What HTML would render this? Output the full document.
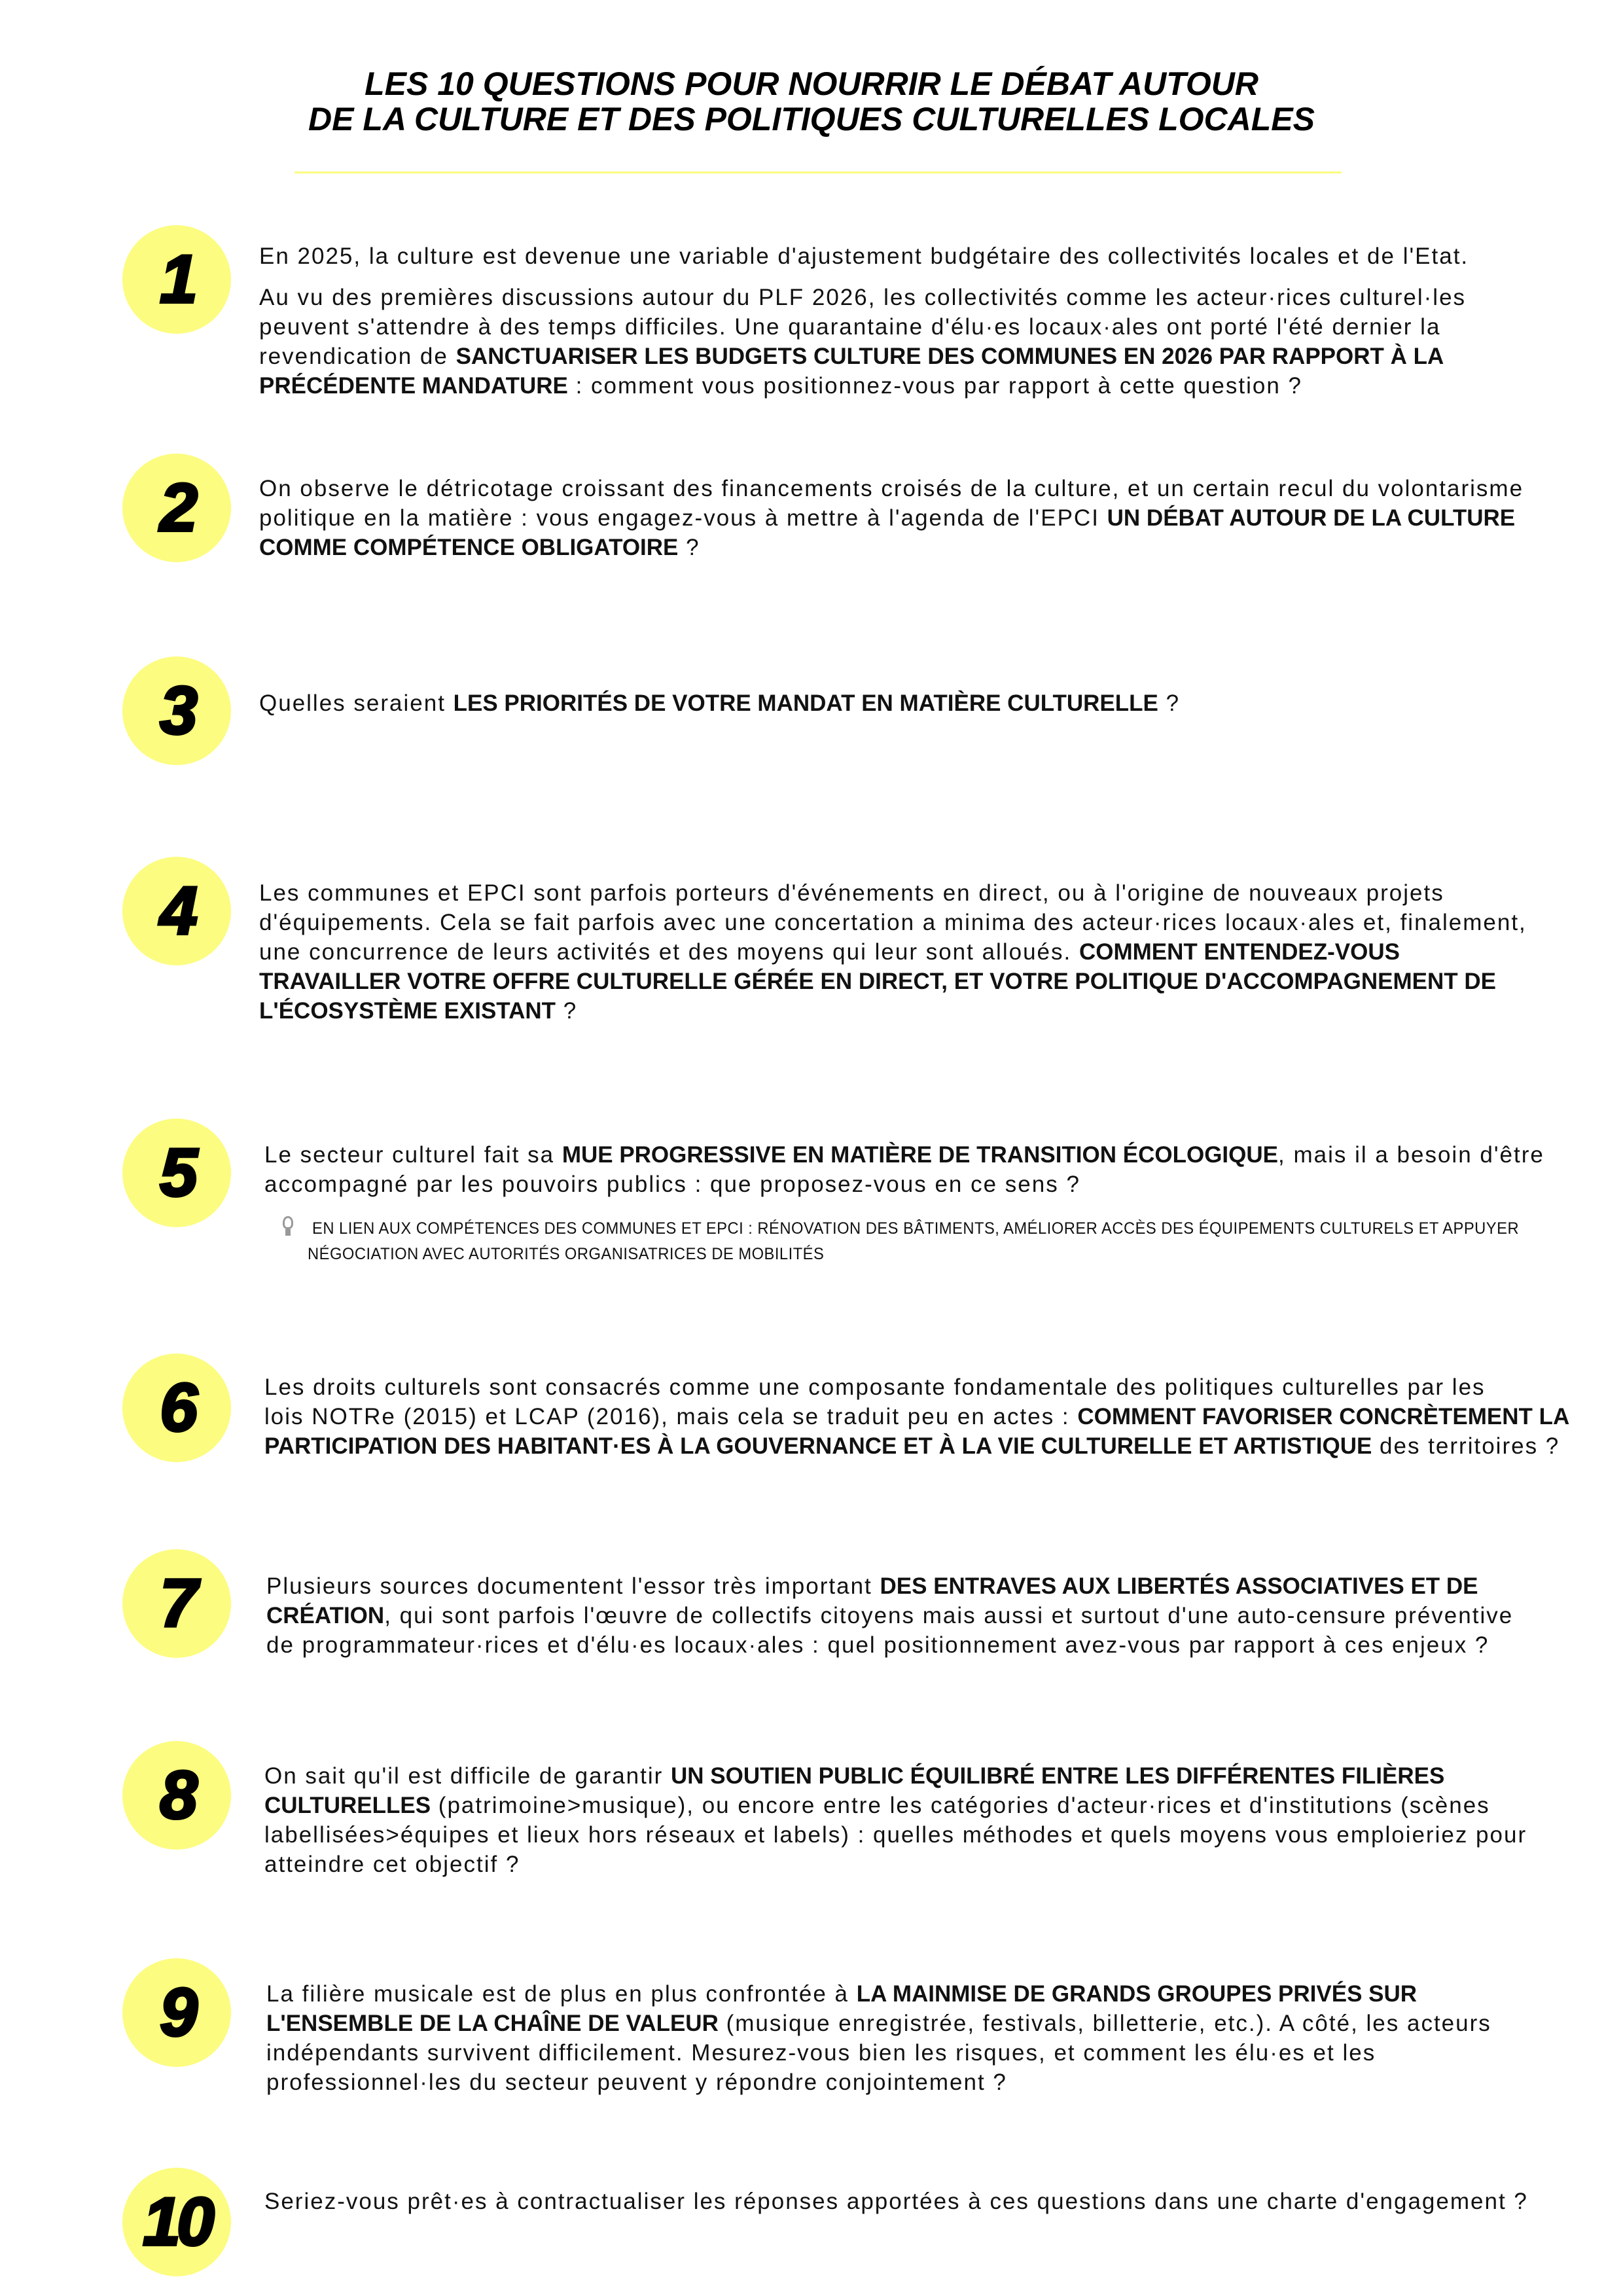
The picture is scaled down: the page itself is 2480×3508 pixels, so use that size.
<!DOCTYPE html>
<html><head><meta charset="utf-8"><style>
body{margin:0;background:#fff}
#p{position:relative;width:2480px;height:3508px;overflow:hidden;background:#fff;font-family:"Liberation Sans",sans-serif;color:#111}
.t{position:absolute;left:0;width:2480px;text-align:center;font-weight:bold;font-style:italic;font-size:50px;line-height:54px;white-space:nowrap;color:#000}
.c{position:absolute;left:187px;width:166px;height:166px;border-radius:50%;background:#fcfc80;text-align:center;line-height:166px;font-weight:900;font-style:italic;font-size:104px;color:#000;letter-spacing:-6px;-webkit-text-stroke:4px #000}
.q{position:absolute;font-size:35px;line-height:45px;white-space:nowrap;letter-spacing:2px}
.q b{font-weight:bold;letter-spacing:0}
.n{position:absolute;left:462px;font-size:25px;line-height:40px;white-space:nowrap;letter-spacing:0.5px;transform:scaleX(0.95);transform-origin:left}
</style></head><body><div id="p">
<div class="t" style="top:101px">LES 10 QUESTIONS POUR NOURRIR LE DÉBAT AUTOUR</div>
<div class="t" style="top:155px">DE LA CULTURE ET DES POLITIQUES CULTURELLES LOCALES</div>
<div style="position:absolute;left:450px;top:262px;width:1600px;height:3px;background:#fbfb80"></div>

<div class="c" style="top:344px">1</div>
<div class="q" style="left:396px;top:369px">En 2025, la culture est devenue une variable d'ajustement budgétaire des collectivités locales et de l'Etat.</div>
<div class="q" style="left:396px;top:432px">Au vu des premières discussions autour du PLF 2026, les collectivités comme les acteur·rices culturel·les<br>peuvent s'attendre à des temps difficiles. Une quarantaine d'élu·es locaux·ales ont porté l'été dernier la<br>revendication de <b>SANCTUARISER LES BUDGETS CULTURE DES COMMUNES EN 2026 PAR RAPPORT À LA<br>PRÉCÉDENTE MANDATURE</b> : comment vous positionnez-vous par rapport à cette question ?</div>

<div class="c" style="top:693px">2</div>
<div class="q" style="left:396px;top:724px">On observe le détricotage croissant des financements croisés de la culture, et un certain recul du volontarisme<br>politique en la matière : vous engagez-vous à mettre à l'agenda de l'EPCI <b>UN DÉBAT AUTOUR DE LA CULTURE<br>COMME COMPÉTENCE OBLIGATOIRE</b> ?</div>

<div class="c" style="top:1003px">3</div>
<div class="q" style="left:396px;top:1052px">Quelles seraient <b>LES PRIORITÉS DE VOTRE MANDAT EN MATIÈRE CULTURELLE</b> ?</div>

<div class="c" style="top:1309px">4</div>
<div class="q" style="left:396px;top:1342px">Les communes et EPCI sont parfois porteurs d'événements en direct, ou à l'origine de nouveaux projets<br>d'équipements. Cela se fait parfois avec une concertation a minima des acteur·rices locaux·ales et, finalement,<br>une concurrence de leurs activités et des moyens qui leur sont alloués. <b>COMMENT ENTENDEZ-VOUS<br>TRAVAILLER VOTRE OFFRE CULTURELLE GÉRÉE EN DIRECT, ET VOTRE POLITIQUE D'ACCOMPAGNEMENT DE<br>L'ÉCOSYSTÈME EXISTANT</b> ?</div>

<div class="c" style="top:1709px">5</div>
<div class="q" style="left:404px;top:1742px">Le secteur culturel fait sa <b>MUE PROGRESSIVE EN MATIÈRE DE TRANSITION ÉCOLOGIQUE</b>, mais il a besoin d'être<br>accompagné par les pouvoirs publics : que proposez-vous en ce sens ?</div>
<div style="position:absolute;left:432px;top:1858px;width:16px;height:20px;border:3px solid #999;border-radius:50% 50% 40% 40%;box-sizing:border-box"></div>
<div style="position:absolute;left:436px;top:1878px;width:8px;height:10px;background:#999"></div>
<div class="n" style="left:477px;top:1857px">EN LIEN AUX COMPÉTENCES DES COMMUNES ET EPCI : RÉNOVATION DES BÂTIMENTS, AMÉLIORER ACCÈS DES ÉQUIPEMENTS CULTURELS ET APPUYER</div>
<div class="n" style="left:470px;top:1896px">NÉGOCIATION AVEC AUTORITÉS ORGANISATRICES DE MOBILITÉS</div>

<div class="c" style="top:2068px">6</div>
<div class="q" style="left:404px;top:2097px">Les droits culturels sont consacrés comme une composante fondamentale des politiques culturelles par les<br>lois NOTRe (2015) et LCAP (2016), mais cela se traduit peu en actes : <b>COMMENT FAVORISER CONCRÈTEMENT LA<br>PARTICIPATION DES HABITANT·ES À LA GOUVERNANCE ET À LA VIE CULTURELLE ET ARTISTIQUE</b> des territoires ?</div>

<div class="c" style="top:2367px">7</div>
<div class="q" style="left:407px;top:2401px">Plusieurs sources documentent l'essor très important <b>DES ENTRAVES AUX LIBERTÉS ASSOCIATIVES ET DE<br>CRÉATION</b>, qui sont parfois l'œuvre de collectifs citoyens mais aussi et surtout d'une auto-censure préventive<br>de programmateur·rices et d'élu·es locaux·ales : quel positionnement avez-vous par rapport à ces enjeux ?</div>

<div class="c" style="top:2660px">8</div>
<div class="q" style="left:404px;top:2691px">On sait qu'il est difficile de garantir <b>UN SOUTIEN PUBLIC ÉQUILIBRÉ ENTRE LES DIFFÉRENTES FILIÈRES<br>CULTURELLES</b> (patrimoine&gt;musique), ou encore entre les catégories d'acteur·rices et d'institutions (scènes<br>labellisées&gt;équipes et lieux hors réseaux et labels) : quelles méthodes et quels moyens vous emploieriez pour<br>atteindre cet objectif ?</div>

<div class="c" style="top:2992px">9</div>
<div class="q" style="left:407px;top:3024px">La filière musicale est de plus en plus confrontée à <b>LA MAINMISE DE GRANDS GROUPES PRIVÉS SUR<br>L'ENSEMBLE DE LA CHAÎNE DE VALEUR</b> (musique enregistrée, festivals, billetterie, etc.). A côté, les acteurs<br>indépendants survivent difficilement. Mesurez-vous bien les risques, et comment les élu·es et les<br>professionnel·les du secteur peuvent y répondre conjointement ?</div>

<div class="c" style="top:3312px">10</div>
<div class="q" style="left:404px;top:3341px">Seriez-vous prêt·es à contractualiser les réponses apportées à ces questions dans une charte d'engagement ?</div>
</div></body></html>
